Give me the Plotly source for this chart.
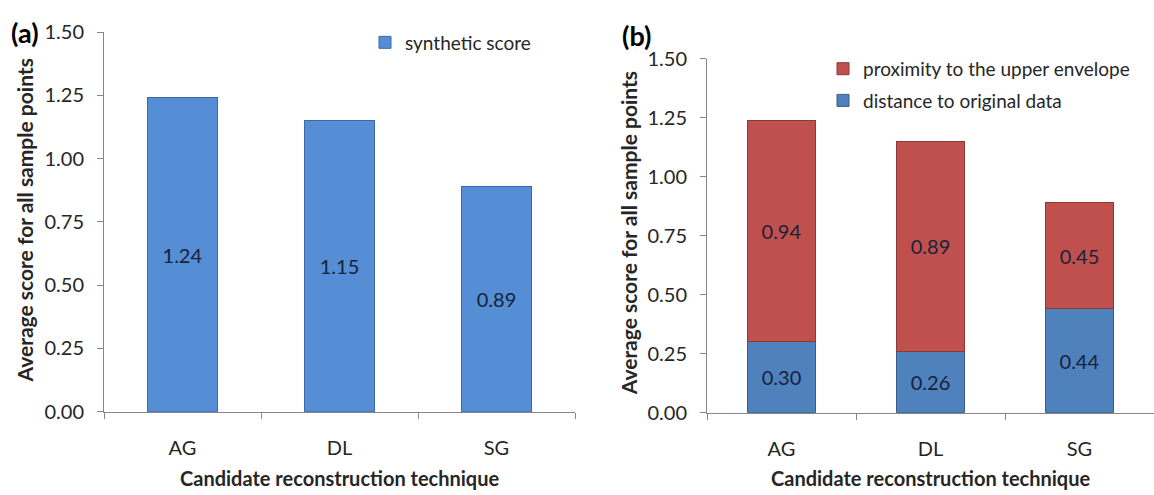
import plotly.graph_objects as go

# ---- data ----
categories = ["AG", "DL", "SG"]
synthetic_score = [1.24, 1.15, 0.89]
distance_to_original = [0.30, 0.26, 0.44]
proximity_to_envelope = [0.94, 0.89, 0.45]
y_tick_values = [0.0, 0.25, 0.5, 0.75, 1.0, 1.25, 1.5]
y_tick_labels = ["0.00", "0.25", "0.50", "0.75", "1.00", "1.25", "1.50"]

W, H = 1154, 495
FONT = "Lato, 'Open Sans', sans-serif"
AXIS_COLOR = "#868686"
TEXT_COLOR = "#262626"
LABEL_COLOR = "#15233a"


def px_x(v):
    return v / W


def px_y(v):
    return 1 - v / H


def fmt(vals):
    return [f"{v:.2f}" for v in vals]


fig = go.Figure()

bar_common = dict(width=0.45, textposition="inside", insidetextanchor="middle",
                  textangle=0, constraintext="none", showlegend=True,
                  textfont=dict(family=FONT, size=20, color=LABEL_COLOR))

fig.add_trace(go.Bar(
    x=categories, y=synthetic_score, name="synthetic score",
    xaxis="x", yaxis="y", legend="legend",
    marker=dict(color="#558ED5", line=dict(color="#3D6AA6", width=1)),
    text=fmt(synthetic_score), **bar_common))

fig.add_trace(go.Bar(
    x=categories, y=distance_to_original, name="distance to original data",
    xaxis="x2", yaxis="y2", legend="legend2", legendgroup="g1", legendrank=2,
    marker=dict(color="#4F81BD", line=dict(color="#385D8A", width=1)),
    text=fmt(distance_to_original), **bar_common))

fig.add_trace(go.Bar(
    x=categories, y=proximity_to_envelope, name="proximity to the upper envelope",
    xaxis="x2", yaxis="y2", legend="legend2", legendgroup="g2", legendrank=1,
    marker=dict(color="#C0504D", line=dict(color="#8C3836", width=1)),
    text=fmt(proximity_to_envelope), **bar_common))

xaxis_common = dict(type="category", range=[-0.5, 2.5], tickson="boundaries",
                    ticks="outside", ticklen=6, tickcolor=AXIS_COLOR,
                    showline=True, linecolor=AXIS_COLOR, linewidth=1,
                    showgrid=False, zeroline=False, ticklabelstandoff=18,
                    tickfont=dict(family=FONT, size=20, color=TEXT_COLOR))
yaxis_common = dict(range=[0, 1.5], tickvals=y_tick_values, ticktext=y_tick_labels,
                    ticks="outside", ticklen=6, tickcolor=AXIS_COLOR,
                    showline=True, linecolor=AXIS_COLOR, linewidth=1,
                    showgrid=False, zeroline=False, ticklabelstandoff=9,
                    tickfont=dict(family=FONT, size=20, color=TEXT_COLOR))

fig.update_layout(
    width=W, height=H, margin=dict(l=0, r=0, t=0, b=0),
    paper_bgcolor="white", plot_bgcolor="white",
    barmode="stack", bargap=0.55, showlegend=True,
    font=dict(family=FONT, size=20, color=TEXT_COLOR),
    xaxis=dict(domain=[px_x(104), px_x(575)], anchor="y", **xaxis_common),
    yaxis=dict(domain=[px_y(419), px_y(20)], anchor="x", **yaxis_common),
    xaxis2=dict(domain=[px_x(707), 1.0], anchor="y2", **xaxis_common),
    yaxis2=dict(domain=[px_y(420), px_y(48)], anchor="x2", **yaxis_common),
    legend=dict(x=px_x(365), y=px_y(31), xanchor="left", yanchor="middle",
                bgcolor="rgba(0,0,0,0)", font=dict(family=FONT, size=19, color=TEXT_COLOR)),
    legend2=dict(x=px_x(823), y=px_y(75.5), xanchor="left", yanchor="middle",
                 traceorder="grouped", tracegroupgap=4,
                 bgcolor="rgba(0,0,0,0)", font=dict(family=FONT, size=19, color=TEXT_COLOR)),
)

annotations = [
    dict(text="<b>(a)</b>", x=px_x(9), y=px_y(20), xanchor="left", yanchor="middle",
         font=dict(family=FONT, size=27, color="#000000")),
    dict(text="<b>(b)</b>", x=px_x(620), y=px_y(24), xanchor="left", yanchor="middle",
         font=dict(family=FONT, size=27, color="#000000")),
    dict(text="<b>Average score for all sample points</b>", x=px_x(24), y=px_y(218),
         textangle=-90, xanchor="center", yanchor="middle",
         font=dict(family=FONT, size=21, color=TEXT_COLOR)),
    dict(text="<b>Average score for all sample points</b>", x=px_x(628), y=px_y(231.5),
         textangle=-90, xanchor="center", yanchor="middle",
         font=dict(family=FONT, size=21, color=TEXT_COLOR)),
    dict(text="<b>Candidate reconstruction technique</b>", x=px_x(339.5), y=px_y(489),
         xanchor="center", yanchor="middle",
         font=dict(family=FONT, size=20, color=TEXT_COLOR)),
    dict(text="<b>Candidate reconstruction technique</b>", x=px_x(930.5), y=px_y(489),
         xanchor="center", yanchor="middle",
         font=dict(family=FONT, size=20, color=TEXT_COLOR)),
]
for a in annotations:
    a.update(xref="paper", yref="paper", showarrow=False)
fig.update_layout(annotations=annotations)

fig.write_html("out.html")
